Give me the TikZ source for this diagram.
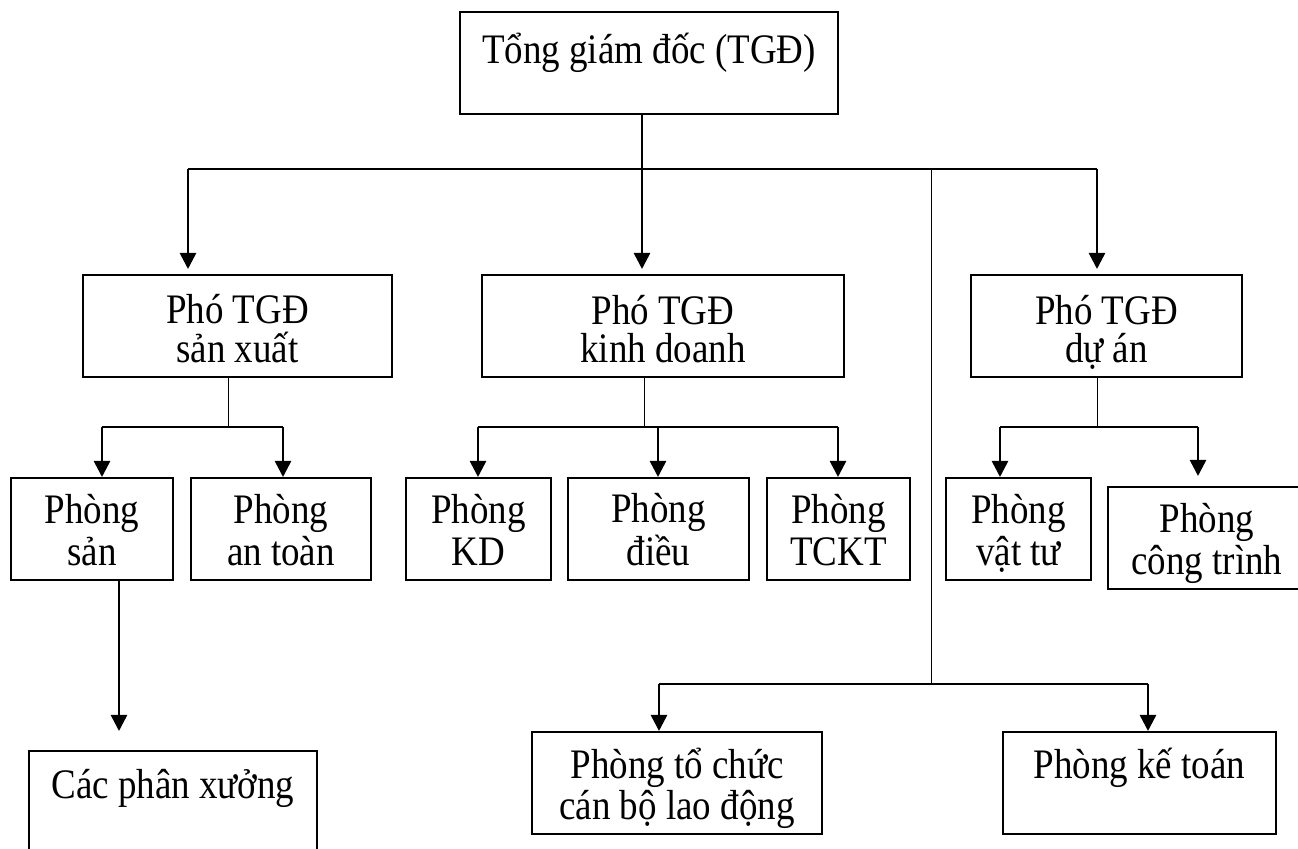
\documentclass[tikz,border=0pt]{standalone}
\usepackage{fontspec}
\setmainfont{Liberation Serif}[FakeStretch=0.88]
\usetikzlibrary{arrows.meta}

% two lines of a box: [height of first row]{extra gap between rows}{first}{second}
\newcommand{\khung}[4][21.5pt]{\begin{tabular}{@{}c@{}}\rule{0pt}{#1}#3\\[#2]#4\mbox{}\end{tabular}}

\tikzset{
	box/.style={draw, line width=1pt, inner sep=0pt, minimum height=51pt,
		font=\fontsize{21}{21.5}\selectfont},
	arr/.style={line width=1.3pt, -{Triangle[length=8pt,width=8pt]}},
	bar/.style={line width=1.3pt},
	stem/.style={line width=0.5pt}
}

\begin{document}
\begin{tikzpicture}[x=0.5pt,y=-0.5pt]
	\useasboundingbox (0,0) rectangle (1298,849);
	\clip (0,0) rectangle (1298,849);
	%\draw[step=100,color=gray] (0,0) grid (1298,849);
	% boxes
	\node[box, minimum width=189pt] (tgd) at (649,63.5) {\khung{-6pt}{Tổng giám đốc (TGĐ)}{}};
	\node[box, minimum width=154.5pt] (psx) at (237.5,326) {\khung[23.5pt]{-2.5pt}{Phó TGĐ}{sản xuất}};
	\node[box, minimum width=181pt] (pkd) at (663,326) {\khung[23.5pt]{-2.5pt}{Phó TGĐ}{kinh doanh}};
	\node[box, minimum width=135.5pt] (pda) at (1106.5,326) {\khung[23.5pt]{-2.5pt}{Phó TGĐ}{dự án}};
	\node[box, minimum width=81pt] (psan) at (92,529) {\khung{-0.5pt}{Phòng}{sản}};
	\node[box, minimum width=90pt] (pat) at (281,529) {\khung{-0.5pt}{Phòng}{an toàn}};
	\node[box, minimum width=72.5pt] (pkdo) at (478.5,529) {\khung{-0.5pt}{Phòng}{KD}};
	\node[box, minimum width=90.5pt] (pdieu) at (658.5,529) {\khung{-0.5pt}{Phòng}{điều}};
	\node[box, minimum width=71.5pt] (ptckt) at (838.5,529) {\khung{-0.5pt}{Phòng}{TCKT}};
	\node[box, minimum width=72.5pt] (pvt) at (1018.5,529) {\khung{-0.5pt}{Phòng}{vật tư}};
	\node[box, minimum width=99pt] (pct) at (1207,538) {\khung{-0.5pt}{Phòng}{công trình}};
	\node[box, minimum width=144pt, minimum height=52pt] (pxuong) at (173,803) {\khung[22.5pt]{-0.5pt}{Các phân xưởng}{}};
	\node[box, minimum width=145pt] (ptc) at (677,783) {\khung[22.5pt]{-1pt}{Phòng tổ chức}{cán bộ lao động}};
	\node[box, minimum width=136.5pt] (pkt) at (1139.5,783) {\khung[22.5pt]{-0.5pt}{Phòng kế toán}{}};
	% tong giam doc
	\coordinate (t0) at (642,169);
	\coordinate (b1) at (188,169);
	\coordinate (b2) at (1097,169);
	\coordinate (bx) at (931,169);
	\coordinate (b3) at (931,684);
	\draw[bar] (tgd.south -| t0) -- (t0);
	\draw[bar] (b1) -- (b2);
	\draw[arr, shorten >=2.5pt] (b1) -- (b1 |- psx.north);
	\draw[arr, shorten >=2.5pt] (t0) -- (t0 |- pkd.north);
	\draw[arr, shorten >=2.5pt] (b2) -- (b2 |- pda.north);
	\draw[stem] (bx) -- (b3);
	% to chuc, ke toan
	\coordinate (c1) at (659,684);
	\coordinate (c2) at (1148,684);
	\draw[bar] (c1) -- (c2);
	\draw[arr] (c1) -- (c1 |- ptc.north);
	\draw[arr] (c2) -- (c2 |- pkt.north);
	% san xuat
	\coordinate (s1) at (228,427);
	\coordinate (s1a) at (102,427);
	\coordinate (s1b) at (283,427);
	\draw[stem] (psx.south -| s1) -- (s1);
	\draw[bar] (s1a) -- (s1b);
	\draw[arr] (s1a) -- (s1a |- psan.north);
	\draw[arr] (s1b) -- (s1b |- pat.north);
	\draw[arr, shorten >=9.5pt] ([xshift=13.5pt]psan.south) -- ([xshift=13.5pt]psan.south |- pxuong.north);
	% kinh doanh
	\coordinate (s2) at (644,427);
	\coordinate (s2a) at (478,427);
	\coordinate (s2m) at (658,427);
	\coordinate (s2b) at (838,427);
	\draw[stem] (pkd.south -| s2) -- (s2);
	\draw[bar] (s2a) -- (s2b);
	\draw[arr] (s2a) -- (s2a |- pkdo.north);
	\draw[arr] (s2m) -- (s2m |- pdieu.north);
	\draw[arr] (s2b) -- (s2b |- ptckt.north);
	% du an
	\coordinate (s3) at (1097,427);
	\coordinate (s3a) at (1000,427);
	\coordinate (s3b) at (1198,427);
	\draw[stem] (pda.south -| s3) -- (s3);
	\draw[bar] (s3a) -- (s3b);
	\draw[arr] (s3a) -- (s3a |- pvt.north);
	\draw[arr, shorten >=5pt] (s3b) -- (s3b |- pct.north);
\end{tikzpicture}
\end{document}
